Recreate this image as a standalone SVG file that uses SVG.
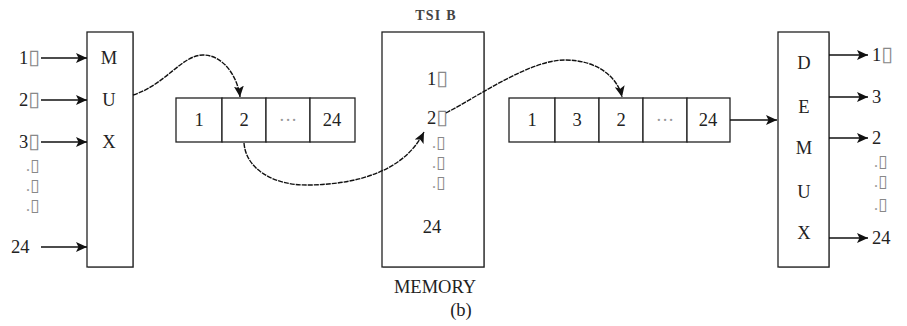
<svg xmlns="http://www.w3.org/2000/svg" width="907" height="326" viewBox="0 0 907 326">
  <defs>
    <marker id="arrow" viewBox="0 0 11 10" refX="11" refY="5" markerWidth="11" markerHeight="10" markerUnits="userSpaceOnUse" orient="auto">
      <path d="M0,0 L11,5 L0,10 L2.5,5 Z" fill="#111"/>
    </marker>
    <style>
      text { font-family: "Liberation Serif", "Times New Roman", serif; font-size: 18.5px; fill: #222; }
      .c { text-anchor: middle; }
      .box { fill: #fff; stroke: #222; stroke-width: 1.3; }
      .shade { fill: none; stroke: #999; stroke-width: 1.6; }
      .cell { fill: #fff; stroke: #222; stroke-width: 1.3; }
      .wire { fill: none; stroke: #111; stroke-width: 1.4; marker-end: url(#arrow); }
      .hop { fill: none; stroke: #111; stroke-width: 1.4; stroke-dasharray: 5 1; marker-end: url(#arrow); }
      .tofu { fill: #888; font-family: "DejaVu Sans", sans-serif; font-size: 21px; }
      .dots { fill: #999; }
      .row { fill: #999; font-size: 16px; }
      .row .tofu { font-size: 17px; }
      .title { font-size: 14px; font-weight: bold; letter-spacing: 1.2px; fill: #444; }
    </style>
  </defs>

  <!-- multiplexer -->
  <g id="mux">
    <polyline class="shade" points="133,33 133,267 88,267"/>
    <rect class="box" x="87" y="32" width="46" height="235"/>
    <text class="c" x="109" y="64">M</text>
    <text class="c" x="109" y="106">U</text>
    <text class="c" x="109" y="148">X</text>
  </g>
  <!-- input channel labels -->
  <g id="mux-inputs">
    <text x="19" y="64">1<tspan class="tofu">▯</tspan></text>
    <text x="19" y="106">2<tspan class="tofu">▯</tspan></text>
    <text x="19" y="148">3<tspan class="tofu">▯</tspan></text>
    <text x="26" y="171" class="row">.<tspan class="tofu">▯</tspan></text>
    <text x="26" y="191" class="row">.<tspan class="tofu">▯</tspan></text>
    <text x="26" y="211" class="row">.<tspan class="tofu">▯</tspan></text>
    <text x="11" y="253">24</text>
  </g>

  <!-- incoming frame -->
  <g id="frame-in">
    <rect class="cell" x="176" y="98" width="46" height="44"/>
    <rect class="cell" x="222" y="98" width="44" height="44"/>
    <rect class="cell" x="266" y="98" width="44" height="44"/>
    <rect class="cell" x="310" y="98" width="45" height="44"/>
    <text class="c" x="199" y="126">1</text>
    <text class="c" x="244" y="126">2</text>
    <text class="c dots" x="288" y="126">···</text>
    <text class="c" x="332" y="126">24</text>
  </g>

  <!-- time-slot interchange memory -->
  <g id="memory">
    <text class="c title" x="436" y="20">TSI B</text>
    <polyline class="shade" points="484,33 484,267 383,267"/>
    <rect class="box" x="382" y="32" width="102" height="235"/>
    <text x="427" y="85">1<tspan class="tofu">▯</tspan></text>
    <text x="427" y="124">2<tspan class="tofu">▯</tspan></text>
    <text x="432" y="148" class="row">.<tspan class="tofu">▯</tspan></text>
    <text x="432" y="168" class="row">.<tspan class="tofu">▯</tspan></text>
    <text x="432" y="188" class="row">.<tspan class="tofu">▯</tspan></text>
    <text class="c" x="432" y="233">24</text>
    <text class="c" x="435" y="293">MEMORY</text>
  </g>

  <!-- outgoing frame -->
  <g id="frame-out">
    <rect class="cell" x="509" y="98" width="46" height="44"/>
    <rect class="cell" x="555" y="98" width="44" height="44"/>
    <rect class="cell" x="599" y="98" width="44" height="44"/>
    <rect class="cell" x="643" y="98" width="44" height="44"/>
    <rect class="cell" x="687" y="98" width="43" height="44"/>
    <text class="c" x="532" y="126">1</text>
    <text class="c" x="577" y="126">3</text>
    <text class="c" x="621" y="126">2</text>
    <text class="c dots" x="665" y="126">···</text>
    <text class="c" x="708" y="126">24</text>
  </g>

  <!-- demultiplexer -->
  <g id="demux">
    <polyline class="shade" points="829,33 829,267 779,267"/>
    <rect class="box" x="778" y="32" width="51" height="235"/>
    <text class="c" x="804" y="69">D</text>
    <text class="c" x="804" y="113">E</text>
    <text class="c" x="804" y="154">M</text>
    <text class="c" x="804" y="198">U</text>
    <text class="c" x="804" y="239">X</text>
  </g>
  <!-- output channel labels -->
  <g id="demux-outputs">
    <text x="872" y="61">1<tspan class="tofu">▯</tspan></text>
    <text x="872" y="103">3</text>
    <text x="872" y="144">2</text>
    <text x="874" y="167" class="row">.<tspan class="tofu">▯</tspan></text>
    <text x="874" y="187" class="row">.<tspan class="tofu">▯</tspan></text>
    <text x="874" y="210" class="row">.<tspan class="tofu">▯</tspan></text>
    <text x="872" y="244">24</text>
  </g>

  <text class="c" x="461" y="316">(b)</text>

  <g id="connectors">
    <line class="wire" x1="41" y1="58" x2="87" y2="58"/>
    <line class="wire" x1="41" y1="100" x2="87" y2="100"/>
    <line class="wire" x1="41" y1="142" x2="87" y2="142"/>
    <line class="wire" x1="41" y1="247" x2="87" y2="247"/>
    <line class="wire" x1="730" y1="120" x2="777" y2="120"/>
    <line class="wire" x1="829" y1="55" x2="868" y2="55"/>
    <line class="wire" x1="829" y1="97" x2="868" y2="97"/>
    <line class="wire" x1="829" y1="138" x2="868" y2="138"/>
    <line class="wire" x1="829" y1="238" x2="868" y2="238"/>
    <path class="hop" d="M133,95 C165,85 182,55 203,55 C224,55 238,78 240,97"/>
    <path class="hop" d="M244,143 C246,170 275,186 310,185 C360,184 405,170 424,132"/>
    <path class="hop" d="M446,113 C480,95 530,60 565,60 C598,60 618,78 622,97"/>
  </g>
</svg>
